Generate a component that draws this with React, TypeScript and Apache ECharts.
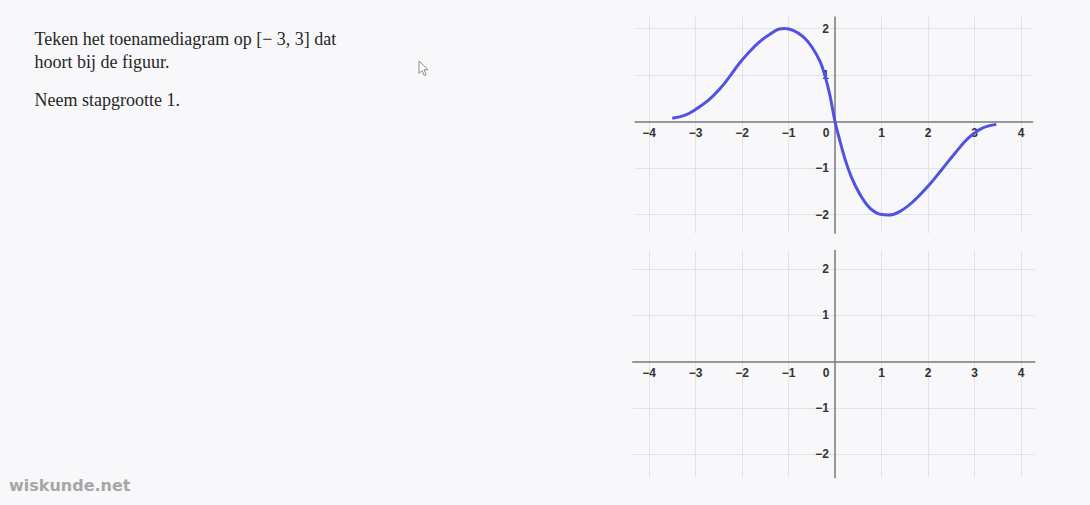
import React, { useEffect, useRef } from "react";
import * as echarts from "echarts";

// Curve (top diagram)
const curveX = [-3.5, -3.22, -2.97, -2.72, -2.47, -2.22, -2.06, -1.84, -1.63, -1.41, -1.2, -1.09, -0.9, -0.68, -0.5, -0.32, -0.22, -0.11, 0, 0.11, 0.22, 0.36, 0.54, 0.75, 1.0, 1.15, 1.4, 1.69, 2.0, 2.29, 2.58, 2.86, 3.15, 3.47];
const curveY = [0.07, 0.14, 0.28, 0.46, 0.71, 1.03, 1.25, 1.5, 1.71, 1.87, 1.99, 2.0, 1.96, 1.82, 1.61, 1.29, 1.0, 0.57, 0, -0.43, -0.82, -1.21, -1.57, -1.86, -2.0, -2.01, -1.93, -1.71, -1.39, -1.04, -0.68, -0.36, -0.15, -0.06];

// Axis extents
const topXRange = [-4.3, 4.25];
const topYRange = [-2.4, 2.25];
const botXRange = [-4.35, 4.3];
const botYRange = [-2.5, 2.4];

// Texts
const questionLines = ["Teken het toenamediagram op [− 3, 3] dat", "hoort bij de figuur.", "Neem stapgrootte 1."];
const watermark = "wiskunde.net";

const LABEL_FONT = "'Liberation Sans', Arial, sans-serif";
const LABEL_COLOR = "#333333";

function fmtNum(v: number) {
  return v < 0 ? "\u2212" + Math.abs(v) : String(v);
}

function isInt(v: number) {
  return Math.abs(v - Math.round(v)) < 1e-6;
}

function xAxisCfg(gridIndex: number, range: number[], offset: number) {
  return {
    type: "value",
    gridIndex,
    min: range[0],
    max: range[1],
    minInterval: 1,
    maxInterval: 1,
    splitNumber: 8,
    position: "bottom",
    offset,
    axisLine: { onZero: false, lineStyle: { color: "#7c7c7c", width: 1.5 } },
    axisTick: { show: false },
    splitLine: { show: true, showMinLine: false, showMaxLine: false, lineStyle: { color: "#e3e3e6", width: 1 } },
    axisLabel: {
      margin: 5,
      color: LABEL_COLOR,
      fontSize: 12,
      fontWeight: "bold",
      fontFamily: LABEL_FONT,
      hideOverlap: false,
      formatter: (v: number) => {
        if (!isInt(v)) return "";
        if (Math.round(v) === 0) return "{zero|0}";
        return fmtNum(Math.round(v));
      },
      rich: {
        zero: { padding: [0, 18, 0, 0], color: LABEL_COLOR, fontSize: 12, fontWeight: "bold", fontFamily: LABEL_FONT },
      },
    },
  };
}

function yAxisCfg(gridIndex: number, range: number[], offset: number) {
  return {
    type: "value",
    gridIndex,
    min: range[0],
    max: range[1],
    minInterval: 1,
    maxInterval: 1,
    splitNumber: 5,
    position: "left",
    offset,
    axisLine: { onZero: false, lineStyle: { color: "#7c7c7c", width: 1.5 } },
    axisTick: { show: false },
    splitLine: { show: true, showMinLine: false, showMaxLine: false, lineStyle: { color: "#e3e3e6", width: 1 } },
    axisLabel: {
      margin: 6,
      color: LABEL_COLOR,
      fontSize: 12,
      fontWeight: "bold",
      fontFamily: LABEL_FONT,
      hideOverlap: false,
      formatter: (v: number) => {
        if (!isInt(v)) return "";
        if (Math.round(v) === 0) return "";
        return fmtNum(Math.round(v));
      },
    },
  };
}

export default function App() {
  const ref = useRef<HTMLDivElement>(null);

  useEffect(() => {
    if (!ref.current) return;
    const chart = echarts.init(ref.current, null, { renderer: "svg" });
    const unit = 46.5;
    const topZeroY = 121.6;
    const botZeroY = 361.7;
    const botUnitY = 46.3;
    const zeroX = 835;

    // offsets that bring each axis from the grid edge onto the zero line
    const topXOffset = -(-topYRange[0] * unit);
    const topYOffset = -(-topXRange[0] * unit);
    const botXOffset = -(-botYRange[0] * botUnitY);
    const botYOffset = -(-botXRange[0] * unit);

    const option: any = {
      animation: false,
      backgroundColor: "#f8f8fa",
      grid: [
        {
          left: zeroX + topXRange[0] * unit,
          width: (topXRange[1] - topXRange[0]) * unit,
          top: topZeroY - topYRange[1] * unit,
          height: (topYRange[1] - topYRange[0]) * unit,
          containLabel: false,
        },
        {
          left: zeroX + botXRange[0] * unit,
          width: (botXRange[1] - botXRange[0]) * unit,
          top: botZeroY - botYRange[1] * botUnitY,
          height: (botYRange[1] - botYRange[0]) * botUnitY,
          containLabel: false,
        },
      ],
      xAxis: [xAxisCfg(0, topXRange, topXOffset), xAxisCfg(1, botXRange, botXOffset)],
      yAxis: [yAxisCfg(0, topYRange, topYOffset), yAxisCfg(1, botYRange, botYOffset)],
      series: [
        {
          type: "line",
          xAxisIndex: 0,
          yAxisIndex: 0,
          data: curveX.map((x, i) => [x, curveY[i]]),
          smooth: 0.4,
          showSymbol: false,
          symbol: "none",
          lineStyle: { color: "#5252e2", width: 3 },
          z: 3,
        },
        {
          type: "line",
          xAxisIndex: 1,
          yAxisIndex: 1,
          data: [],
          showSymbol: false,
        },
      ],
      graphic: [
        ...questionLines.map((t, i) => ({
          type: "text",
          left: 34.5,
          top: [40, 63.3, 100.7][i] - 10,
          style: {
            text: t,
            fill: "#262626",
            font: "18px 'Liberation Serif', 'Times New Roman', serif",
          },
        })),
        {
          type: "polygon",
          shape: {
            points: [
              [419, 61],
              [419, 73.5],
              [422, 70.5],
              [424.3, 75.5],
              [426.2, 74.7],
              [424, 69.8],
              [428, 69.8],
            ],
          },
          style: { fill: "#ffffff", stroke: "#8a8a8a", lineWidth: 1 },
        },
        {
          type: "text",
          left: 9,
          top: 477,
          style: {
            text: watermark,
            fill: "#a6a6a6",
            font: "bold 16px 'DejaVu Sans', sans-serif",
          },
        },
      ],
    };
    chart.setOption(option);
    return () => chart.dispose();
  }, []);

  return (
    <div
      ref={ref}
      style={{ position: "absolute", left: 0, top: 0, width: 1090, height: 505 }}
    />
  );
}
